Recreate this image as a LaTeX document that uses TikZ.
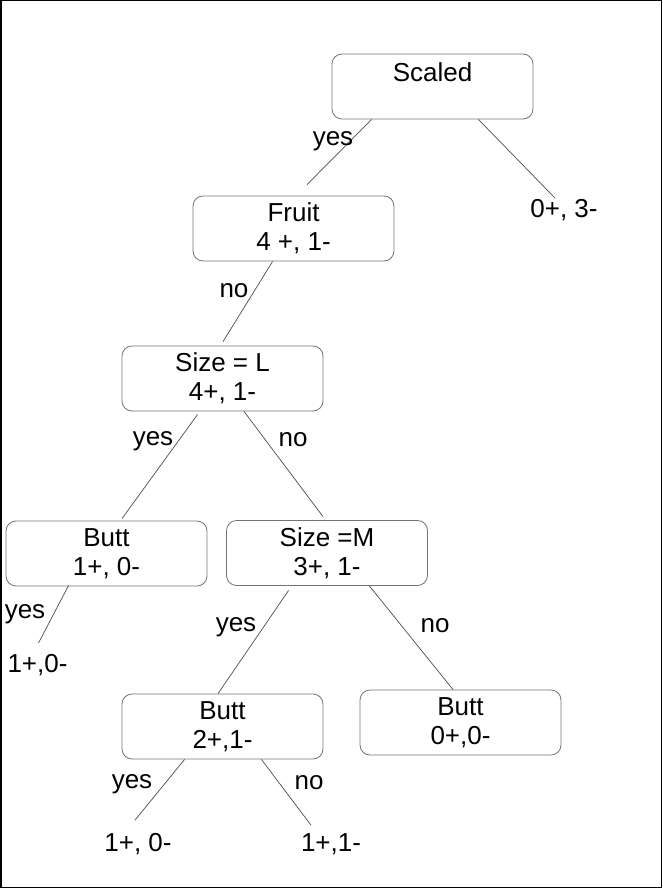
\documentclass[tikz,border=0pt]{standalone}
\usepackage{fontspec}
\setmainfont{Liberation Sans}
\begin{document}
\begin{tikzpicture}[x=1pt,y=1pt,
		every node/.style={font=\fontsize{26}{29}\selectfont},
		tbox/.style={draw=black!55, line width=0.8pt, rounded corners=10pt, minimum width=201pt, minimum height=65pt, align=center, inner sep=0pt},
		leaf/.style={inner sep=0pt},
		edge/.style={draw=black!70, line width=0.7pt}]

		\useasboundingbox (0,0) rectangle (662,-888);
		\draw[line width=1.5pt] (0.75,-0.75) rectangle (661.25,-887.25);

		\node[tbox] (scaled) at (432.5,-86.5) {Scaled\\~};
		\node[tbox] (fruit) at (293.5,-228.5) {Fruit\\4 +, 1-};
		\node[tbox] (sizeL) at (222.5,-378.5) {Size = L\\4+, 1-};
		\node[tbox] (buttL) at (106.5,-553.5) {Butt\\1+, 0-};
		\node[tbox] (sizeM) at (327,-553) {Size =M\\3+, 1-};
		\node[tbox] (buttA) at (222.5,-726.5) {Butt\\2+,1-};
		\node[tbox] (buttB) at (460.5,-722.5) {Butt\\0+,0-};

		\node[leaf] (l03) at (564,-210) {0+, 3-};
		\node[leaf] (l10) at (37.5,-665) {1+,0-};
		\node[leaf] (l10b) at (138,-844) {1+, 0-};
		\node[leaf] (l11) at (331,-844) {1+,1-};

		\draw[edge] ([xshift=40pt]scaled.south west) -- ([xshift=13.5pt,yshift=11pt]fruit.north);
		\draw[edge] ([xshift=-55pt]scaled.south east) -- ([xshift=-9pt,yshift=1pt]l03.north);
		\draw[edge] ([xshift=80pt]fruit.south west) -- ([xshift=0.5pt,yshift=4pt]sizeL.north);
		\draw[edge] ([xshift=76pt,yshift=-3pt]sizeL.south west) -- ([xshift=15.5pt,yshift=2pt]buttL.north);
		\draw[edge] ([xshift=21.5pt]sizeL.south) -- ([xshift=-4pt,yshift=3.5pt]sizeM.north);
		\draw[edge] ([xshift=63pt,yshift=1pt]buttL.south west) -- ([xshift=1pt,yshift=11pt]l10.north);
		\draw[edge] ([xshift=62.5pt,yshift=-4.5pt]sizeM.south west) -- ([xshift=-4.5pt]buttA.north);
		\draw[edge] ([xshift=-58.5pt]sizeM.south east) -- ([xshift=-7.5pt]buttB.north);
		\draw[edge] ([xshift=63pt]buttA.south west) -- ([xshift=-3pt,yshift=13pt]l10b.north);
		\draw[edge] ([xshift=-62pt]buttA.south east) -- ([xshift=-20pt,yshift=8pt]l11.north);

		\node (yes1) at (333,-141) {yes};
		\node (no1) at (234,-291) {no};
		\node (yes2) at (153,-441) {yes};
		\node (no2) at (293,-440) {no};
		\node (yes3) at (25,-614) {yes};
		\node (yes4) at (236,-627) {yes};
		\node (no3) at (435,-626) {no};
		\node (yes5) at (132,-784) {yes};
		\node (no4) at (309,-783) {no};
	\end{tikzpicture}
\end{document}
